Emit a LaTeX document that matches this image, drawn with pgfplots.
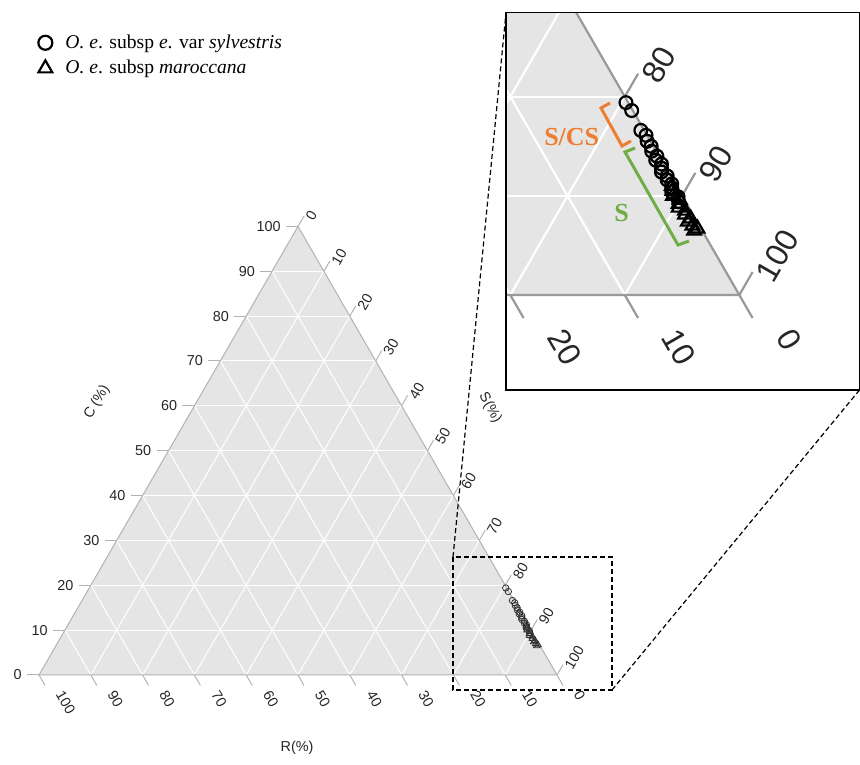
\documentclass[border=0pt]{standalone}
\usepackage{pgfplots}
\pgfplotsset{compat=1.18}
\usepackage{pgfplotstable}
\usepackage{fontspec}
\setmainfont{Liberation Serif}
\newfontfamily\arial{Liberation Sans}

\definecolor{tfill}{HTML}{E5E5E5}
\definecolor{mainline}{HTML}{B3B3B3}
\definecolor{insetline}{HTML}{999999}
\definecolor{labc}{HTML}{262626}
\definecolor{scsorange}{HTML}{ED7D31}
\definecolor{sgreen}{HTML}{70AD47}

% composition in %: C (top), R (bottom left), S (bottom right)
\pgfplotstableread{
C    R    S
19.4 0.2 80.4
18.6 0.1 81.3
16.6 0.3 83.1
16.1 0.1 83.8
15.5 0.3 84.2
15.0 0.2 84.8
14.5 0.4 85.1
14.0 0.2 85.8
13.6 0.5 85.9
13.2 0.2 86.6
12.8 0.4 86.8
12.4 0.6 87.0
12.0 0.3 87.7
11.6 0.5 87.9
11.2 0.3 88.5
10.8 0.5 88.7
10.4 0.7 88.9
9.9  0.4 89.7
9.4  0.6 90.0
}\sylvestris

\pgfplotstableread{
C    R    S
11.0 0.4 88.6
10.5 0.6 88.9
10.0 0.8 89.2
9.6  0.4 90.0
9.2  0.7 90.1
8.8  0.9 90.3
8.5  0.5 91.0
8.1  0.7 91.2
7.7  0.4 91.9
7.4  0.8 91.8
7.0  0.6 92.4
6.7  0.3 93.0
6.5  0.7 92.8
}\maroccana

% triangle background, grid, ticks and tick labels
% #1 scale, #2 label font, #3 border colour
\newcommand{\terndecor}[3]{%
  \fill[tfill] (axis cs:0,0) -- (axis cs:100,0) -- (axis cs:50,86.6025) -- cycle;
  \pgfplotsinvokeforeach{10,20,...,90}{%
    \draw[white, line width=#1*0.5pt] (axis cs:{##1/2},{##1*0.8660254}) -- (axis cs:{100-##1/2},{##1*0.8660254});
    \draw[white, line width=#1*0.5pt] (axis cs:{##1},0) -- (axis cs:{50+##1/2},{(100-##1)*0.8660254});
    \draw[white, line width=#1*0.5pt] (axis cs:{100-##1},0) -- (axis cs:{(100-##1)/2},{(100-##1)*0.8660254});
  }
  \draw[#3, line width=#1*0.5pt] (axis cs:0,0) -- (axis cs:100,0) -- (axis cs:50,86.6025) -- cycle;
  \pgfplotsinvokeforeach{0,10,...,100}{%
    \draw[#3, line width=#1*0.5pt] (axis cs:{##1/2},{##1*0.8660254}) -- ++({-#1*6pt},0)
      node[xshift={-#1*2.4pt}, anchor=east, inner sep=0pt, text=labc, font=#2] {##1};
    \draw[#3, line width=#1*0.5pt] (axis cs:{100-##1},0) -- ++(-60:{#1*6pt})
      node[xshift={#1*7.2pt}, yshift={-#1*3pt}, rotate=-60, anchor=west, inner sep=0pt, text=labc, font=#2] {##1};
    \draw[#3, line width=#1*0.5pt] (axis cs:{50+##1/2},{(100-##1)*0.8660254}) -- ++(60:{#1*6pt})
      node[xshift={#1*2.5pt}, yshift={-#1*1.7pt}, rotate=60, anchor=west, inner sep=0pt, text=labc, font=#2] {##1};
  }
}

\begin{document}
\begin{tikzpicture}
\path[use as bounding box] (0pt,0pt) rectangle (430pt,382pt);

% main ternary diagram
\begin{axis}[
  at={(19.5pt,44.5pt)}, anchor=south west,
  x=2.59pt, y=2.59pt,
  xmin=0, xmax=100, ymin=0, ymax=86.6025,
  enlargelimits=false, hide axis, clip=false,
  legend style={at={(axis cs:-0.2,124.5)}, anchor=north west, draw=none, fill=none,
    inner sep=0pt, row sep=0.5pt, column sep=4.5pt, font=\fontsize{9.8}{11.5}\selectfont},
  legend cell align=left,
]
\terndecor{1}{\arial\fontsize{7.2}{8.6}\selectfont}{mainline}
\addlegendimage{only marks, mark=o, mark size=3.5pt, line width=1.1pt, black}
\addlegendentry{\textit{O. e}. subsp \textit{e}. var \textit{sylvestris}}
\addlegendimage{only marks, mark=triangle, mark size=4pt, line width=1.1pt, black}
\addlegendentry{\textit{O. e}. subsp \textit{maroccana}}
\addplot[forget plot, only marks, mark=o, mark size=1.6pt, line width=0.4pt, black!80]
  table[x expr=\thisrow{S}+0.5*\thisrow{C}, y expr=0.8660254*\thisrow{C}] {\sylvestris};
\addplot[forget plot, only marks, mark=triangle, mark size=1.9pt, line width=0.4pt, black!80]
  table[x expr=\thisrow{S}+0.5*\thisrow{C}, y expr=0.8660254*\thisrow{C}] {\maroccana};
\end{axis}

% zoomed inset
\begin{axis}[
  at={(253pt,187pt)}, anchor=south west,
  x=5.725pt, y=5.725pt,
  xmin=79.624, xmax=110.498, ymin=-8.297, ymax=24.655,
  enlargelimits=false, hide axis, clip=true,
]
\terndecor{2.21}{\arial\fontsize{15.9}{18}\selectfont}{insetline}
\addplot[only marks, mark=o, mark size=3.2pt, line width=1.1pt, black]
  table[x expr=\thisrow{S}+0.5*\thisrow{C}, y expr=0.8660254*\thisrow{C}] {\sylvestris};
\addplot[only marks, mark=triangle, mark size=3.9pt, line width=1.1pt, black]
  table[x expr=\thisrow{S}+0.5*\thisrow{C}, y expr=0.8660254*\thisrow{C}] {\maroccana};
\end{axis}

\begin{scope}[x=0.5pt, y=0.5pt]
% inset frame and zoom guides
\draw[black, line width=0.6pt] (506,751.3) rectangle (859.5,374);
\draw[black, line width=0.7pt, dash pattern=on 2.5pt off 1.5pt] (453,207) rectangle (612,74);
\draw[black, line width=0.6pt, dash pattern=on 2.5pt off 1.5pt] (453,207) -- (506,751.3);
\draw[black, line width=0.6pt, dash pattern=on 2.5pt off 1.5pt] (612,74) -- (859.5,374);

% strategy brackets
\draw[scsorange, line width=1.5pt] (610,661) -- (601,656) -- (622,618) -- (631,623);
\node[text=scsorange, font=\bfseries\fontsize{13}{15}\selectfont] at (571.7,627.3) {S/CS};
\draw[sgreen, line width=1.5pt] (635,616) -- (625,612) -- (678,519) -- (689,523);
\node[text=sgreen, font=\bfseries\fontsize{13}{15}\selectfont] at (621.7,550.7) {S};

% axis titles
\node[rotate=60, text=labc, font=\arial\fontsize{7.2}{8.6}\selectfont] at (97,362) {C (\%)};
\node[rotate=-60, text=labc, font=\arial\fontsize{7.2}{8.6}\selectfont] at (490,356) {S(\%)};
\node[text=labc, font=\arial\fontsize{7.2}{8.6}\selectfont] at (297,16) {R(\%)};
\end{scope}
\end{tikzpicture}
\end{document}
